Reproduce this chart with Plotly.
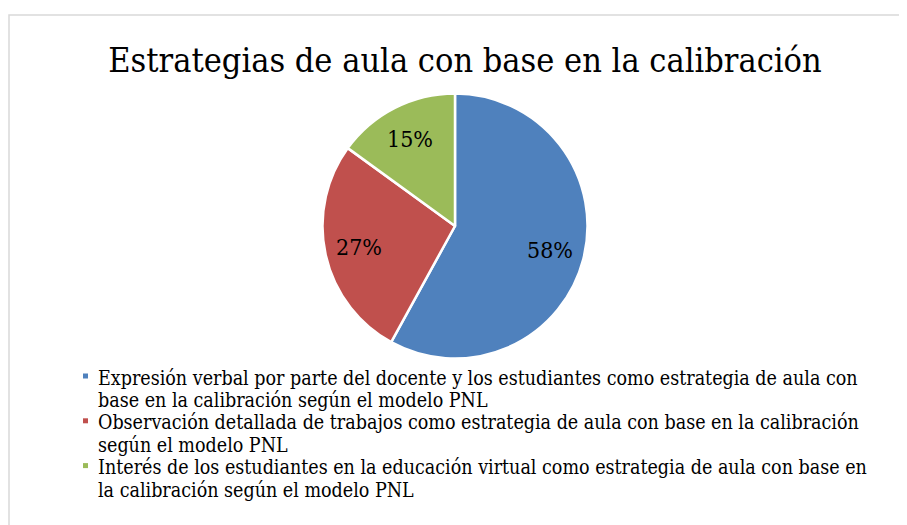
import math
import plotly.graph_objects as go

W, H = 907, 525
OFF = 8  # page body margin

title = "Estrategias de aula con base en la calibración"
labels = [
    "Expresión verbal por parte del docente y los estudiantes como estrategia de aula con<br>base en la calibración según el modelo PNL",
    "Observación detallada de trabajos como estrategia de aula con base en la calibración<br>según el modelo PNL",
    "Interés de los estudiantes en la educación virtual como estrategia de aula con base en<br>la calibración según el modelo PNL",
]
values = [58, 27, 15]
colors = ["#4F81BD", "#C0504D", "#9BBB59"]

font = "DejaVu Serif Condensed"


def px(x):
    return (x - OFF) / W


def py(y):
    return 1 - (y - OFF) / H


# pie centre / radius in page pixels
cx, cy, r = 455, 226, 132.5

fig = go.Figure(go.Pie(
    labels=labels,
    values=values,
    sort=False,
    direction="clockwise",
    rotation=0,
    marker=dict(colors=colors, line=dict(color="white", width=2.5)),
    textinfo="none",
    domain=dict(x=[px(cx - r), px(cx + r)], y=[py(cy + r), py(cy - r)]),
    showlegend=False,
    hoverinfo="label+percent",
))

annotations = []

# percent labels, placed along each slice's mid angle like the original
total = sum(values)
start = 0
for v in values:
    mid = (start + v / 2) / total * 2 * math.pi
    start += v
    lx = cx + 0.74 * r * math.sin(mid)
    ly = cy - 0.74 * r * math.cos(mid)
    annotations.append(dict(text=f"{round(v / total * 100)}%", xref="paper", yref="paper",
                            x=px(lx), y=py(ly), xanchor="center", yanchor="middle",
                            showarrow=False, font=dict(family=font, size=23, color="black")))

# legend drawn by hand so the line spacing matches
shapes = [dict(type="rect", xref="paper", yref="paper",
               x0=px(9), x1=1.02, y0=-0.02, y1=py(15),
               line=dict(color="#D9D9D9", width=1.5), fillcolor="rgba(0,0,0,0)")]
line_h = 22.4
y0 = 378
row = 0
for lab, col in zip(labels, colors):
    sq_y = y0 + row * line_h - 2
    shapes.append(dict(type="rect", xref="paper", yref="paper",
                       x0=px(83), x1=px(88), y0=py(sq_y + 2.5), y1=py(sq_y - 2.5),
                       line=dict(width=0), fillcolor=col))
    for part in lab.split("<br>"):
        annotations.append(dict(text=part, xref="paper", yref="paper",
                                x=px(96), y=py(y0 + row * line_h),
                                xanchor="left", yanchor="middle", showarrow=False,
                                font=dict(family=font, size=19.5, color="black")))
        row += 1

fig.update_layout(
    width=W, height=H,
    margin=dict(l=0, r=0, t=0, b=0),
    paper_bgcolor="white",
    title=dict(text=title, font=dict(family=font, size=34, color="black"),
               x=px(465), xanchor="center", y=py(60), yanchor="middle"),
    shapes=shapes,
    annotations=annotations,
)

fig.write_html("out.html")
